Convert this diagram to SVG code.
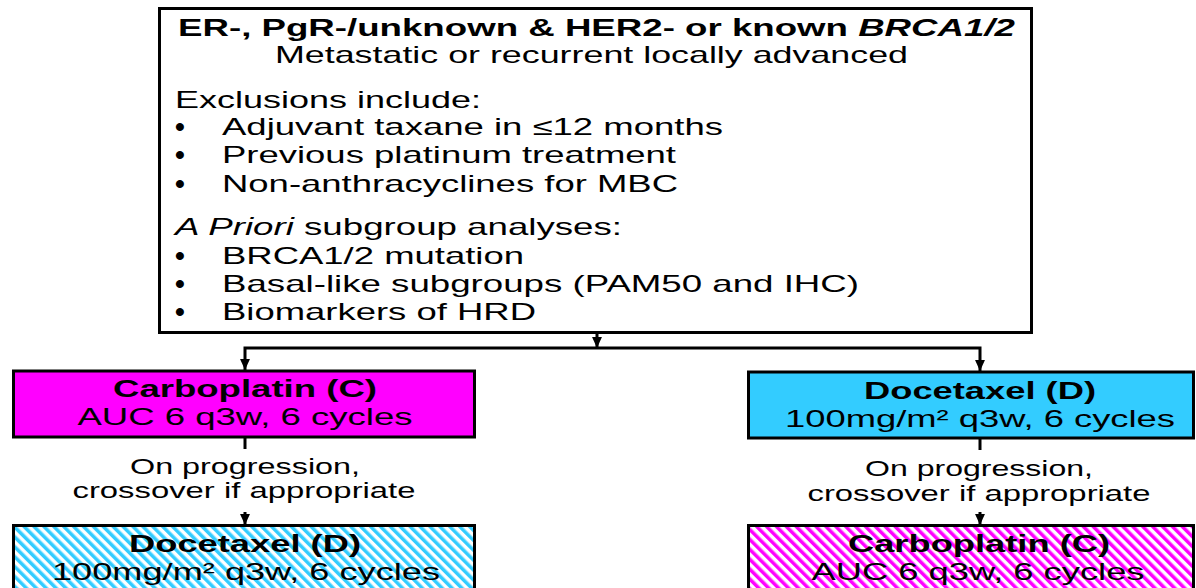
<svg xmlns="http://www.w3.org/2000/svg" width="1196" height="588" viewBox="0 0 1196 588">
  <style>
    text { font-family: "Liberation Sans", Arial, sans-serif; fill: #000; }
    .t { font-size: 24px; }
    .b { font-weight: bold; }
    .bul { font-size: 28px; font-weight: bold; }
    .lbl { font-size: 21.5px; }
    .box { stroke: #000; stroke-width: 3; }
    .conn { fill: none; stroke: #000; stroke-width: 3; }
  </style>
  <defs>
    <marker id="arr" viewBox="0 0 10 10" refX="10" refY="5" markerWidth="11" markerHeight="11" markerUnits="userSpaceOnUse" orient="auto">
      <path d="M0,0.5 L10,5 L0,9.5 z" fill="#000"/>
    </marker>
    <pattern id="hatchC" width="7" height="7" patternUnits="userSpaceOnUse" patternTransform="rotate(-45)">
      <rect width="7" height="7" fill="#fff"/>
      <rect width="3.5" height="7" fill="#33CCFF"/>
    </pattern>
    <pattern id="hatchM" width="7" height="7" patternUnits="userSpaceOnUse" patternTransform="rotate(-45)">
      <rect width="7" height="7" fill="#fff"/>
      <rect width="3.5" height="7" fill="#FF00FF"/>
    </pattern>
  </defs>
  <rect width="1196" height="588" fill="#fff"/>

  <g id="eligibility">
    <rect class="box" x="159.5" y="8.5" width="872" height="324" fill="#fff"/>
    <text class="t b" x="178" y="36" textLength="837" lengthAdjust="spacingAndGlyphs">ER-, PgR-/unknown &amp; HER2- or known <tspan font-style="italic">BRCA1/2</tspan></text>
    <text class="t" x="275" y="63" textLength="633" lengthAdjust="spacingAndGlyphs">Metastatic or recurrent locally advanced</text>
    <text class="t" x="175" y="108" textLength="306" lengthAdjust="spacingAndGlyphs">Exclusions include:</text>
    <text class="bul" x="175" y="136">•</text>
    <text class="t" x="222" y="135" textLength="501" lengthAdjust="spacingAndGlyphs">Adjuvant taxane in ≤12 months</text>
    <text class="bul" x="175" y="164">•</text>
    <text class="t" x="222" y="163" textLength="454" lengthAdjust="spacingAndGlyphs">Previous platinum treatment</text>
    <text class="bul" x="175" y="193">•</text>
    <text class="t" x="222" y="192" textLength="456" lengthAdjust="spacingAndGlyphs">Non-anthracyclines for MBC</text>
    <text class="t" x="175" y="235" textLength="447" lengthAdjust="spacingAndGlyphs"><tspan font-style="italic">A Priori</tspan> subgroup analyses:</text>
    <text class="bul" x="175" y="265">•</text>
    <text class="t" x="222" y="264" textLength="302" lengthAdjust="spacingAndGlyphs">BRCA1/2 mutation</text>
    <text class="bul" x="175" y="293">•</text>
    <text class="t" x="222" y="292" textLength="637" lengthAdjust="spacingAndGlyphs">Basal-like subgroups (PAM50 and IHC)</text>
    <text class="bul" x="175" y="321">•</text>
    <text class="t" x="222" y="320" textLength="314" lengthAdjust="spacingAndGlyphs">Biomarkers of HRD</text>
  </g>

  <g id="carboplatin-arm">
    <rect class="box" x="13.5" y="371" width="461" height="66" fill="#FF00FF"/>
    <text class="t b" x="245" y="397" text-anchor="middle" textLength="264" lengthAdjust="spacingAndGlyphs">Carboplatin (C)</text>
    <text class="t" x="245" y="425" text-anchor="middle" textLength="335" lengthAdjust="spacingAndGlyphs">AUC 6 q3w, 6 cycles</text>
  </g>

  <g id="docetaxel-arm">
    <rect class="box" x="748.5" y="372" width="445" height="66" fill="#33CCFF"/>
    <text class="t b" x="980" y="399" text-anchor="middle" textLength="232" lengthAdjust="spacingAndGlyphs">Docetaxel (D)</text>
    <text class="t" x="980" y="427" text-anchor="middle" textLength="390" lengthAdjust="spacingAndGlyphs">100mg/m² q3w, 6 cycles</text>
  </g>

  <g id="crossover-docetaxel">
    <rect class="box" x="13.5" y="525.5" width="461" height="80" fill="url(#hatchC)"/>
    <text class="t b" x="245" y="552" text-anchor="middle" textLength="232" lengthAdjust="spacingAndGlyphs">Docetaxel (D)</text>
    <text class="t" x="246" y="580" text-anchor="middle" textLength="388" lengthAdjust="spacingAndGlyphs">100mg/m² q3w, 6 cycles</text>
  </g>

  <g id="crossover-carboplatin">
    <rect class="box" x="748.5" y="525.5" width="445" height="80" fill="url(#hatchM)"/>
    <text class="t b" x="979" y="552" text-anchor="middle" textLength="262" lengthAdjust="spacingAndGlyphs">Carboplatin (C)</text>
    <text class="t" x="978" y="580" text-anchor="middle" textLength="333" lengthAdjust="spacingAndGlyphs">AUC 6 q3w, 6 cycles</text>
  </g>

  <g id="connectors">
    <path class="conn" d="M597,333 V348" marker-end="url(#arr)"/>
    <path class="conn" d="M597,348 H245 V370" marker-end="url(#arr)"/>
    <path class="conn" d="M597,348 H980 V371" marker-end="url(#arr)"/>
    <path class="conn" d="M245,437 V449"/>
    <path class="conn" d="M245,512 V525" marker-end="url(#arr)"/>
    <path class="conn" d="M980,438 V450"/>
    <path class="conn" d="M980,512 V525" marker-end="url(#arr)"/>
    <text class="lbl" x="245" y="474" text-anchor="middle" textLength="230" lengthAdjust="spacingAndGlyphs">On progression,</text>
    <text class="lbl" x="244" y="498" text-anchor="middle" textLength="343" lengthAdjust="spacingAndGlyphs">crossover if appropriate</text>
    <text class="lbl" x="979" y="476" text-anchor="middle" textLength="228" lengthAdjust="spacingAndGlyphs">On progression,</text>
    <text class="lbl" x="979" y="501" text-anchor="middle" textLength="343" lengthAdjust="spacingAndGlyphs">crossover if appropriate</text>
  </g>
</svg>
